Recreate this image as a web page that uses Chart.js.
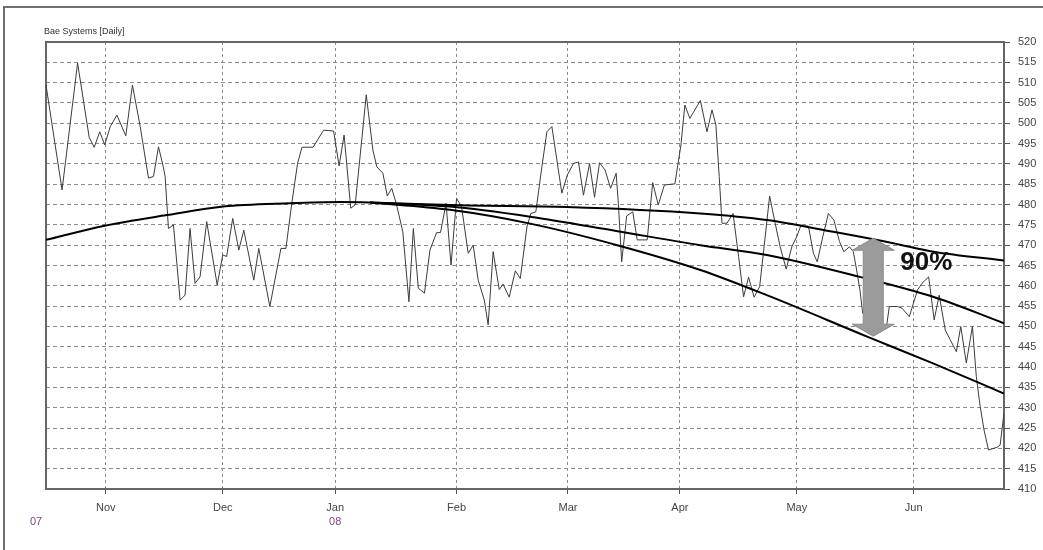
<!DOCTYPE html>
<html>
<head>
<meta charset="utf-8">
<script src="https://cdn.jsdelivr.net/npm/chart.js@4/dist/chart.umd.min.js"></script>
<style>
  body { margin: 0; background: #fff; }
  #wrap { position: relative; width: 1043px; height: 550px; }
</style>
</head>
<body>
<div id="wrap"><canvas id="price" width="1043" height="550"></canvas></div>
<script>
// trading-day index (0 = first day shown) and closing price
const priceDay = [0, 2.9, 5.7, 7.8, 8.7, 9.7, 10.6, 11.6, 12.8, 14.4,
  15.6, 17.0, 18.5, 19.4, 20.3, 21.1, 21.5, 22.1, 23.0, 24.2,
  25.1, 26.0, 26.9, 27.8, 29.0, 30.9, 31.9, 32.6, 33.7, 34.8,
  35.7, 37.5, 38.4, 40.4, 42.4, 43.3, 44.4, 45.4, 46.2, 48.2,
  50.1, 51.9, 52.9, 53.8, 55.0, 55.8, 57.8, 59.0, 59.7, 60.8,
  61.6, 62.4, 63.2, 64.4, 65.5, 66.3, 67.2, 68.3, 69.3, 70.5,
  71.2, 72.2, 73.1, 74.1, 75.0, 76.2, 77.1, 78.0, 79.1, 79.8,
  80.7, 81.8, 82.5, 83.6, 84.7, 85.6, 86.8, 87.5, 88.4, 89.5,
  90.4, 91.3, 93.1, 94.1, 95.2, 96.1, 97.0, 98.1, 99.0, 99.9,
  100.9, 101.9, 102.9, 103.3, 103.9, 104.8, 105.9, 106.7, 108.5, 109.5,
  110.5, 111.6, 113.5, 114.6, 115.3, 116.2, 118.1, 119.3, 120.2, 120.9,
  121.5, 122.0, 122.9, 124.0, 125.0, 125.9, 126.8, 127.8, 128.8, 129.6,
  130.6, 131.6, 132.5, 133.6, 134.6, 135.5, 136.2, 137.6, 138.5, 139.2,
  140.2, 141.2, 142.2, 143.2, 144.0, 145.0, 145.7, 146.2, 146.9, 147.4,
  149.1, 151.7, 152.2, 153.7, 154.5, 155.8, 157.3, 158.1, 159.3, 160.3,
  161.2, 162.3, 163.2, 164.3, 165.1, 166.1, 167.2, 167.9, 168.6, 169.3,
  170.1, 171.7, 172.2, 172.9];
const priceValue = [509.4, 483.6, 514.8, 496.5, 494.1, 497.9, 494.7, 499.2, 502.0, 496.9,
  509.4, 499.2, 486.5, 486.9, 494.2, 489.7, 486.9, 474.1, 475.0, 456.5,
  457.7, 474.1, 460.6, 462.2, 475.8, 460.2, 467.6, 467.2, 476.6, 468.8,
  473.7, 461.4, 469.2, 454.9, 469.2, 469.2, 480.7, 490.1, 494.1, 494.1,
  498.3, 498.1, 489.5, 497.1, 479.1, 479.9, 507.0, 493.4, 489.3, 487.7,
  482.1, 484.0, 480.3, 473.3, 456.1, 474.1, 459.4, 458.2, 468.8, 473.1,
  473.1, 480.3, 465.1, 481.5, 479.5, 468.0, 470.0, 461.4, 456.5, 450.4,
  468.4, 459.1, 460.4, 457.2, 463.7, 461.8, 474.5, 477.8, 478.2, 489.3,
  497.9, 499.2, 482.8, 487.3, 490.1, 490.5, 482.3, 490.1, 481.8, 490.3,
  488.5, 484.0, 487.7, 480.3, 465.9, 477.2, 478.2, 471.3, 471.3, 485.4,
  479.9, 484.8, 485.1, 494.7, 504.5, 501.2, 505.6, 497.9, 503.3, 499.6,
  486.9, 475.4, 475.4, 477.8, 467.2, 457.3, 462.1, 457.2, 459.8, 469.6,
  482.1, 475.4, 469.6, 464.1, 469.6, 472.1, 474.7, 474.7, 468.0, 465.9,
  472.1, 477.8, 476.2, 470.9, 468.4, 469.6, 468.4, 464.7, 459.0, 453.2,
  451.0, 450.0, 454.9, 454.9, 454.5, 452.4, 459.0, 460.6, 462.2, 451.6,
  457.7, 449.1, 446.7, 443.8, 450.0, 441.0, 450.0, 437.7, 430.3, 424.5,
  419.6, 420.3, 420.8, 428.7];

// fitted curves
const upperDay = [0, 10.6, 21.8, 32.0, 44.0, 53.1, 58.5, 74.7, 94.0, 118.1, 130.1, 142.1, 152.9, 160.2, 172.9];
const upperValue = [471.3, 474.8, 477.4, 479.5, 480.3, 480.6, 480.5, 479.8, 479.4, 477.8, 476.2, 473.3, 470.5, 468.4, 466.2];
const middleDay = [58.5, 72.9, 87.4, 102.9, 118.1, 130.1, 146.9, 160.1, 172.9];
const middleValue = [480.5, 479.5, 477.0, 473.5, 470.0, 467.6, 462.2, 457.3, 450.8];
const lowerDay = [58.5, 72.9, 87.4, 103.1, 118.1, 130.1, 148.2, 160.1, 172.9];
const lowerValue = [480.5, 478.7, 475.3, 470.0, 463.9, 457.7, 447.5, 440.9, 433.5];

const monthDay = [10.8, 31.9, 52.2, 74.1, 94.2, 114.4, 135.5, 156.6];
const monthLabel = ['Nov', 'Dec', 'Jan', 'Feb', 'Mar', 'Apr', 'May', 'Jun'];
const yearLabel = ['07', '08'];

// the 90% band marker
const bandDay = 149.3;
const bandTop = 471.7;
const bandBottom = 447.6;
const bandText = '90%';

const pts = (xs, ys) => xs.map((x, i) => ({ x: x, y: ys[i] }));
const FONT = "'Liberation Sans', Arial, sans-serif";

const decor = {
  id: 'decor',
  beforeDraw(chart) {
    const c = chart.ctx;
    c.save();
    c.fillStyle = '#fff';
    c.fillRect(0, 0, chart.width, chart.height);
    // outer frame
    c.strokeStyle = '#6e6e6e';
    c.lineWidth = 2;
    c.beginPath();
    c.moveTo(4, chart.height + 2);
    c.lineTo(4, 7);
    c.lineTo(chart.width + 2, 7);
    c.stroke();
    c.restore();
  },
  beforeDatasetsDraw(chart) {
    const a = chart.chartArea, c = chart.ctx;
    c.save();
    c.strokeStyle = '#666';
    c.lineWidth = 2;
    c.strokeRect(a.left, a.top, a.right - a.left, a.bottom - a.top);
    c.restore();
  },
  afterDatasetsDraw(chart) {
    const c = chart.ctx;
    const xs = chart.scales.x, ys = chart.scales.y;
    const cx = xs.getPixelForValue(bandDay);
    const t = ys.getPixelForValue(bandTop);
    const b = ys.getPixelForValue(bandBottom);
    const hw = 21, sw = 10, hh = 12;
    c.save();
    c.beginPath();
    c.moveTo(cx, t);
    c.lineTo(cx + hw, t + hh);
    c.lineTo(cx + sw, t + hh);
    c.lineTo(cx + sw, b - hh);
    c.lineTo(cx + hw, b - hh);
    c.lineTo(cx, b);
    c.lineTo(cx - hw, b - hh);
    c.lineTo(cx - sw, b - hh);
    c.lineTo(cx - sw, t + hh);
    c.lineTo(cx - hw, t + hh);
    c.closePath();
    c.fillStyle = '#9b9b9b';
    c.fill();
    c.strokeStyle = '#8a8a8a';
    c.lineWidth = 1;
    c.stroke();

    c.fillStyle = '#111';
    c.font = 'bold 26px ' + FONT;
    c.textBaseline = 'middle';
    c.textAlign = 'left';
    c.fillText(bandText, cx + 27, ys.getPixelForValue(465.7));
    c.restore();
  },
  afterDraw(chart) {
    const a = chart.chartArea, c = chart.ctx;
    c.save();
    c.fillStyle = '#333';
    c.font = '9px ' + FONT;
    c.textBaseline = 'middle';
    c.textAlign = 'left';
    c.fillText('Bae Systems [Daily]', a.left - 2, a.top - 10);

    c.fillStyle = '#7b4a80';
    c.font = '11px ' + FONT;
    c.textAlign = 'center';
    c.fillText(yearLabel[0], a.left - 10, a.bottom + 33);
    c.fillText(yearLabel[1], chart.scales.x.getPixelForValue(monthDay[2]), a.bottom + 33);
    c.restore();
  }
};

const ctx = document.getElementById('price').getContext('2d');

const chart = new Chart(ctx, {
  type: 'line',
  data: {
    datasets: [
      {
        data: pts(priceDay, priceValue),
        borderColor: '#3c3c3c',
        borderWidth: 1,
        pointRadius: 0,
        tension: 0,
        order: 2
      },
      {
        data: pts(upperDay, upperValue),
        borderColor: '#000',
        borderWidth: 2,
        pointRadius: 0,
        cubicInterpolationMode: 'monotone',
        order: 1
      },
      {
        data: pts(middleDay, middleValue),
        borderColor: '#000',
        borderWidth: 2,
        pointRadius: 0,
        cubicInterpolationMode: 'monotone',
        order: 1
      },
      {
        data: pts(lowerDay, lowerValue),
        borderColor: '#000',
        borderWidth: 2,
        pointRadius: 0,
        cubicInterpolationMode: 'monotone',
        order: 1
      }
    ]
  },
  options: {
    responsive: false,
    animation: false,
    devicePixelRatio: 1,
    layout: { padding: { left: 46, top: 42, right: 0, bottom: 0 } },
    plugins: {
      legend: { display: false },
      tooltip: { enabled: false },
      title: { display: false }
    },
    scales: {
      x: {
        type: 'linear',
        min: 0,
        max: 172.9,
        afterBuildTicks: s => { s.ticks = monthDay.map(v => ({ value: v })); },
        afterFit: s => { s.height = 61; },
        ticks: {
          autoSkip: false,
          maxRotation: 0,
          padding: 7,
          color: '#444',
          font: { family: FONT, size: 11 },
          callback: (v, i) => monthLabel[i]
        },
        grid: {
          color: '#8c8c8c',
          lineWidth: 1,
          tickLength: 5,
          tickColor: '#555',
          tickBorderDash: []
        },
        border: { display: false, dash: [3, 3] }
      },
      y: {
        position: 'right',
        min: 410,
        max: 520,
        afterFit: s => { s.width = 39; },
        ticks: {
          stepSize: 5,
          autoSkip: false,
          padding: 8,
          color: '#444',
          font: { family: FONT, size: 11 }
        },
        grid: {
          color: '#8c8c8c',
          lineWidth: 1,
          tickLength: 6,
          tickColor: '#555',
          tickBorderDash: []
        },
        border: { display: false, dash: [4, 3] }
      }
    }
  },
  plugins: [decor]
});
</script>
</body>
</html>
